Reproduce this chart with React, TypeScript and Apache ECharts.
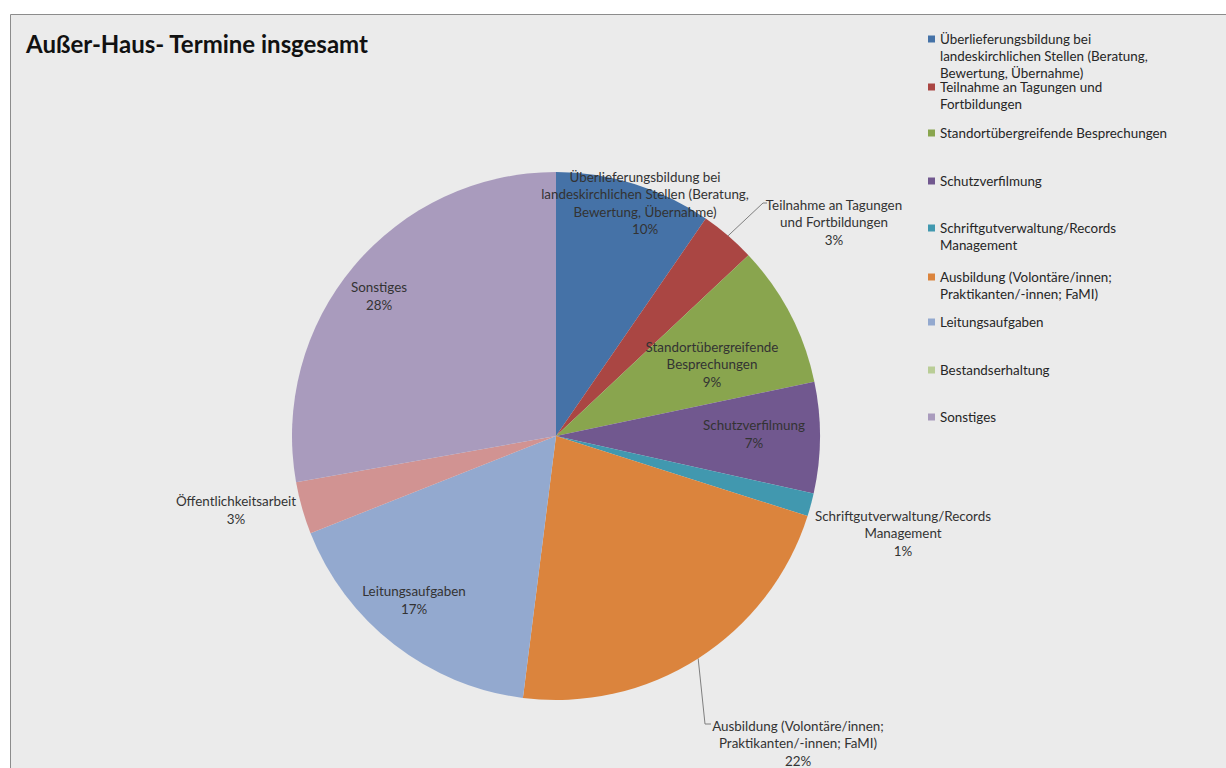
import React, { useEffect, useRef } from "react";
import * as echarts from "echarts";

// ---- data ----
const categories: string[] = [
  "Überlieferungsbildung bei landeskirchlichen Stellen (Beratung, Bewertung, Übernahme)",
  "Teilnahme an Tagungen und Fortbildungen",
  "Standortübergreifende Besprechungen",
  "Schutzverfilmung",
  "Schriftgutverwaltung/Records Management",
  "Ausbildung (Volontäre/innen; Praktikanten/-innen; FaMI)",
  "Leitungsaufgaben",
  "Öffentlichkeitsarbeit",
  "Bestandserhaltung",
  "Sonstiges",
];
const values: number[] = [9.6, 3.4, 8.7, 6.8, 1.4, 22.1, 17.0, 3.2, 0, 27.8];

// label texts split in lines (as in the picture)
const sliceLabelLines: string[][] = [
  ["Überlieferungsbildung bei", "landeskirchlichen Stellen (Beratung,", "Bewertung, Übernahme)"],
  ["Teilnahme an Tagungen", "und Fortbildungen"],
  ["Standortübergreifende", "Besprechungen"],
  ["Schutzverfilmung"],
  ["Schriftgutverwaltung/Records", "Management"],
  ["Ausbildung (Volontäre/innen;", "Praktikanten/-innen; FaMI)"],
  ["Leitungsaufgaben"],
  ["Öffentlichkeitsarbeit"],
  ["Bestandserhaltung"],
  ["Sonstiges"],
];

const legendNames: string[] = [
  categories[0], categories[1], categories[2], categories[3], categories[4],
  categories[5], categories[6], categories[8], categories[9],
];
const legendLines: string[][] = [
  ["Überlieferungsbildung bei", "landeskirchlichen Stellen (Beratung,", "Bewertung, Übernahme)"],
  ["Teilnahme an Tagungen und", "Fortbildungen"],
  ["Standortübergreifende Besprechungen"],
  ["Schutzverfilmung"],
  ["Schriftgutverwaltung/Records", "Management"],
  ["Ausbildung (Volontäre/innen;", "Praktikanten/-innen; FaMI)"],
  ["Leitungsaufgaben"],
  ["Bestandserhaltung"],
  ["Sonstiges"],
];

// ---- styles / layout ----
const colors = [
  "#4572A7", "#AA4643", "#89A54E", "#71588F", "#4198AF",
  "#DB843D", "#93A9CF", "#D19392", "#B9CD96", "#A99BBD",
];
const FONT = "Lato";
const LABEL_FS = 13.4;
const LABEL_LH = 17.5;
const LEGEND_FS = 13.4;
const LEGEND_LH = 17;
const legendFirstLineY = [39, 87, 133, 181, 228, 277, 322, 370, 417];

type Place = { x: number; y: number; outside?: boolean; line?: number[][] };
const labelPlacement: Place[] = [
  { x: 645, y: 203 },
  { x: 834, y: 222, outside: true, line: [[763, 203], [767, 203]] },
  { x: 712, y: 364 },
  { x: 754, y: 434 },
  { x: 903, y: 533, outside: true },
  { x: 798, y: 743, outside: true, line: [[705, 724], [711, 724]] },
  { x: 414, y: 600 },
  { x: 236, y: 510, outside: true },
  { x: 0, y: 0 },
  { x: 379, y: 296 },
];

export default function App() {
  const ref = useRef<HTMLDivElement>(null);
  useEffect(() => {
    if (!ref.current) return;
    const chart = echarts.init(ref.current, undefined, { renderer: "svg" });

    const data = categories.map((name, i) => {
      const pl = labelPlacement[i];
      return {
        name,
        value: values[i],
        itemStyle: { color: colors[i] },
        label: {
          show: values[i] > 0,
          position: pl.outside ? "outside" : "inside",
        },
        labelLine: { show: !!pl.line, length: 10, length2: 5 },
      };
    });

    const legends = legendNames.map((name, i) => {
      const n = legendLines[i].length;
      const H = (2 * n - 1) * LEGEND_LH;
      // leading blank lines keep the marker level with the first text line
      const text = " \n".repeat(n - 1) + legendLines[i].join("\n");
      return {
        data: [name],
        orient: "vertical",
        left: 928,
        top: legendFirstLineY[i] - H / 2,
        padding: 0,
        itemWidth: 7,
        itemHeight: 7,
        itemGap: 0,
        icon: "rect",
        selectedMode: false,
        formatter: () => text,
        textStyle: {
          fontFamily: FONT,
          fontSize: LEGEND_FS,
          color: "#262626",
          lineHeight: LEGEND_LH,
        },
      };
    });

    chart.setOption({
      animation: false,
      color: colors,
      title: {
        text: "Außer-Haus- Termine insgesamt",
        left: 26,
        top: 31,
        padding: 0,
        textStyle: { fontFamily: FONT, fontWeight: "bold", fontSize: 24, color: "#111" },
      },
      graphic: [
        {
          type: "rect",
          z: -10,
          shape: { x: 10.5, y: 14.5, width: 1240, height: 780 },
          style: { fill: "#ebebeb", stroke: "#8c8c8c", lineWidth: 1 },
        },
      ],
      legend: legends,
      series: [
        {
          type: "pie",
          center: [556, 436],
          radius: 264,
          startAngle: 90,
          clockwise: true,
          percentPrecision: 0,
          avoidLabelOverlap: false,
          data,
          label: {
            fontFamily: FONT,
            fontSize: LABEL_FS,
            color: "#333",
            lineHeight: LABEL_LH,
            align: "center",
            formatter: (p: any) =>
              sliceLabelLines[p.dataIndex].join("\n") + "\n" + p.percent + "%",
          },
          labelLine: { lineStyle: { color: "#7f7f7f", width: 1 } },
          labelLayout: (params: any) => {
            const pl = labelPlacement[params.dataIndex];
            if (!pl) return {};
            const out: any = { x: pl.x, y: pl.y, align: "center", verticalAlign: "middle" };
            if (pl.line && params.labelLinePoints) {
              out.labelLinePoints = [params.labelLinePoints[0], ...pl.line];
            }
            return out;
          },
          emphasis: { disabled: true },
        },
      ],
    });
    return () => chart.dispose();
  }, []);

  return (
    <div
      ref={ref}
      style={{ position: "absolute", left: 0, top: 0, width: 1226, height: 768, background: "#fff" }}
    />
  );
}
